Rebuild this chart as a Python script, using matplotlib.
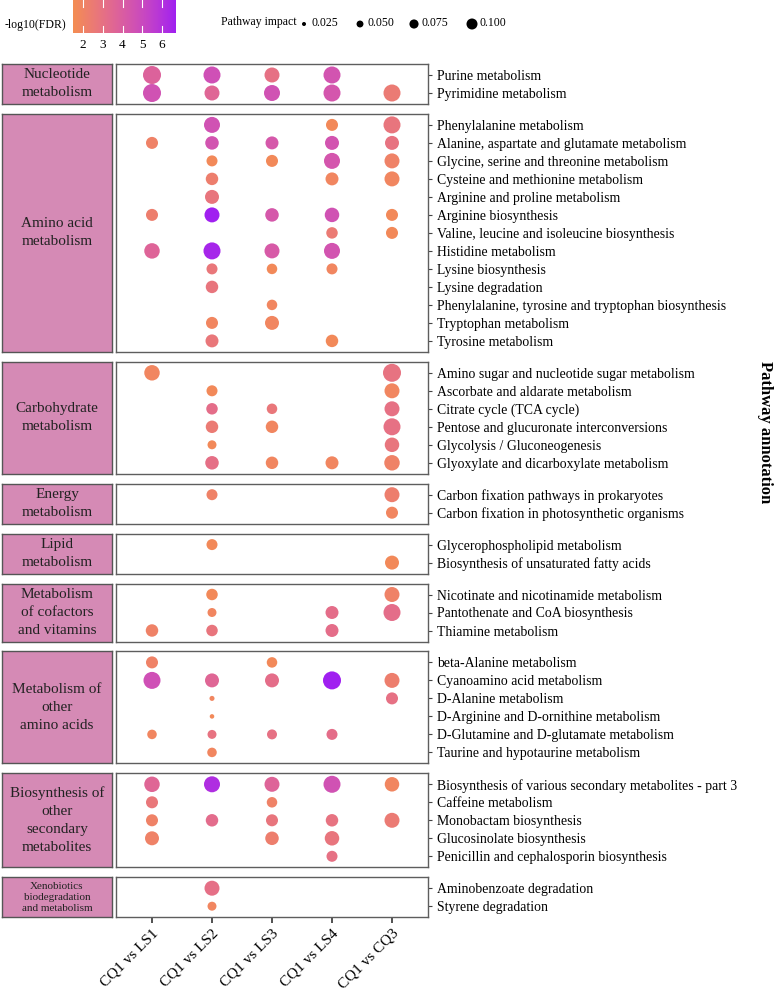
import numpy as np
import matplotlib
matplotlib.use("Agg")
import matplotlib.pyplot as plt
from matplotlib.colors import ListedColormap, Normalize

plt.rcParams['font.family'] = ['Liberation Serif', 'DejaVu Serif']

n = np.nan

comparisons = ["CQ1 vs LS1", "CQ1 vs LS2", "CQ1 vs LS3", "CQ1 vs LS4", "CQ1 vs CQ3"]

categories = ["Nucleotide\nmetabolism", "Amino acid\nmetabolism", "Carbohydrate\nmetabolism",
              "Energy\nmetabolism", "Lipid\nmetabolism", "Metabolism\nof cofactors\nand vitamins",
              "Metabolism of\nother\namino acids", "Biosynthesis of\nother\nsecondary\nmetabolites",
              "Xenobiotics\nbiodegradation\nand metabolism"]
category_sizes = [2, 13, 6, 2, 2, 3, 6, 5, 2]

pathways = [
    "Purine metabolism", "Pyrimidine metabolism",
    "Phenylalanine metabolism", "Alanine, aspartate and glutamate metabolism",
    "Glycine, serine and threonine metabolism", "Cysteine and methionine metabolism",
    "Arginine and proline metabolism", "Arginine biosynthesis",
    "Valine, leucine and isoleucine biosynthesis", "Histidine metabolism",
    "Lysine biosynthesis", "Lysine degradation",
    "Phenylalanine, tyrosine and tryptophan biosynthesis", "Tryptophan metabolism",
    "Tyrosine metabolism",
    "Amino sugar and nucleotide sugar metabolism", "Ascorbate and aldarate metabolism",
    "Citrate cycle (TCA cycle)", "Pentose and glucuronate interconversions",
    "Glycolysis / Gluconeogenesis", "Glyoxylate and dicarboxylate metabolism",
    "Carbon fixation pathways in prokaryotes", "Carbon fixation in photosynthetic organisms",
    "Glycerophospholipid metabolism", "Biosynthesis of unsaturated fatty acids",
    "Nicotinate and nicotinamide metabolism", "Pantothenate and CoA biosynthesis",
    "Thiamine metabolism",
    "beta-Alanine metabolism", "Cyanoamino acid metabolism", "D-Alanine metabolism",
    "D-Arginine and D-ornithine metabolism", "D-Glutamine and D-glutamate metabolism",
    "Taurine and hypotaurine metabolism",
    "Biosynthesis of various secondary metabolites - part 3", "Caffeine metabolism",
    "Monobactam biosynthesis", "Glucosinolate biosynthesis",
    "Penicillin and cephalosporin biosynthesis",
    "Aminobenzoate degradation", "Styrene degradation",
]

# -log10(FDR)
fdr_LS1 = [3.8, 4.6, n, 2.1, n, n, n, 2.3, n, 3.7, n, n, n, n, n, 1.9, n, n, n, n, n, n, n, n, n,
           n, n, 2.1, 2.1, 4.7, n, n, 1.9, n, 3.6, 2.7, 2.1, 2.1, n, n, n]
fdr_LS2 = [4.7, 3.6, 4.6, 4.5, 1.7, 2.3, 2.8, 6.7, n, 6.5, 2.7, 2.8, n, 1.9, 2.7, n, 1.7, 3.2, 2.5, 1.7, 3.1,
           2.1, n, 1.7, n, 1.7, 1.9, 2.8, n, 3.6, 1.9, 1.7, 2.9, 1.9, 6.2, n, 3.3, n, n, 3.1, 1.9]
fdr_LS3 = [3.0, 4.6, n, 4.3, 1.7, n, n, 4.3, n, 4.2, 1.7, n, 1.9, 1.9, n, n, n, 2.7, 1.9, n, 1.9,
           n, n, n, n, n, n, n, 1.7, 3.2, n, n, 3.0, n, 3.7, 2.1, 2.8, 2.3, n, n, n]
fdr_LS4 = [4.5, 4.4, 1.7, 4.5, 4.4, 1.9, n, 4.6, 2.5, 4.5, 1.9, n, n, n, 1.7, n, n, n, n, n, 1.9,
           n, n, n, n, n, 3.2, 3.2, n, 6.7, n, n, 3.2, n, 4.6, n, 2.9, 2.8, 3.0, n, n]
fdr_CQ3 = [n, 2.5, 2.8, 2.9, 2.1, 1.9, n, 1.7, 1.7, n, n, n, n, n, n, 2.9, 1.9, 3.0, 3.0, 2.8, 2.1,
           2.3, 1.9, n, 1.7, 2.1, 3.2, n, n, 2.3, 3.0, n, n, n, 1.9, n, 2.5, n, n, n, n]

# Pathway impact
imp_LS1 = [0.225, 0.225, n, 0.115, n, n, n, 0.115, n, 0.174, n, n, n, n, n, 0.174, n, n, n, n, n,
           n, n, n, n, n, n, 0.122, 0.115, 0.204, n, n, 0.080, n, 0.174, 0.115, 0.115, 0.147, n, n, n]
imp_LS2 = [0.204, 0.165, 0.184, 0.139, 0.100, 0.122, 0.147, 0.165, n, 0.204, 0.100, 0.122, n, 0.115, 0.130,
           n, 0.100, 0.107, 0.122, 0.073, 0.139, 0.100, n, 0.100, n, 0.107, 0.073, 0.107,
           n, 0.147, 0.033, 0.029, 0.073, 0.080, 0.184, n, 0.122, n, n, 0.165, 0.073]
imp_LS3 = [0.165, 0.184, n, 0.130, 0.115, n, n, 0.139, n, 0.165, 0.093, n, 0.093, 0.147, n,
           n, n, 0.093, 0.122, n, 0.122, n, n, n, n, n, n, n,
           0.093, 0.147, n, n, 0.086, n, 0.165, 0.093, 0.115, 0.139, n, n, n]
imp_LS4 = [0.204, 0.204, 0.115, 0.147, 0.184, 0.130, n, 0.156, 0.107, 0.184, 0.100, n, n, n, 0.122,
           n, n, n, n, n, 0.130, n, n, n, n, n, 0.130, 0.130,
           n, 0.225, n, n, 0.100, n, 0.204, n, 0.122, 0.156, 0.100, n, n]
imp_CQ3 = [n, 0.204, 0.204, 0.147, 0.165, 0.165, n, 0.115, 0.115, n, n, n, n, n, n,
           0.225, 0.165, 0.165, 0.204, 0.156, 0.174, 0.165, 0.115, n, 0.147, 0.165, 0.204, n,
           n, 0.165, 0.115, n, n, n, 0.156, n, 0.165, n, n, n, n]

fdr_all = [fdr_LS1, fdr_LS2, fdr_LS3, fdr_LS4, fdr_CQ3]
imp_all = [imp_LS1, imp_LS2, imp_LS3, imp_LS4, imp_CQ3]

size_breaks = [0.025, 0.050, 0.075, 0.100]
color_ticks = [2, 3, 4, 5, 6]
VMIN, VMAX = 1.49, 6.71


# ---------- colour scale: Lab interpolation like ggplot's gradient ----------
def _hex2rgb(h):
    h = h.lstrip('#')
    return np.array([int(h[i:i + 2], 16) / 255 for i in (0, 2, 4)])

M = np.array([[0.4124564, 0.3575761, 0.1804375],
              [0.2126729, 0.7151522, 0.0721750],
              [0.0193339, 0.1191920, 0.9503041]])
WHITE = np.array([0.95047, 1.0, 1.08883])

def rgb2lab(rgb):
    c = np.where(rgb <= 0.04045, rgb / 12.92, ((rgb + 0.055) / 1.055) ** 2.4)
    xyz = M @ c / WHITE
    d = 6 / 29
    f = np.where(xyz > d ** 3, np.cbrt(xyz), xyz / (3 * d * d) + 4 / 29)
    return np.array([116 * f[1] - 16, 500 * (f[0] - f[1]), 200 * (f[1] - f[2])])

def lab2rgb(lab):
    L, a, b = lab
    fy_ = (L + 16) / 116
    f = np.array([fy_ + a / 500, fy_, fy_ - b / 200])
    d = 6 / 29
    xyz = np.where(f > d, f ** 3, 3 * d * d * (f - 4 / 29)) * WHITE
    c = np.linalg.solve(M, xyz)
    c = np.clip(c, 0, 1)
    rgb = np.where(c <= 0.0031308, 12.92 * c, 1.055 * c ** (1 / 2.4) - 0.055)
    return np.clip(rgb, 0, 1)

low, high = rgb2lab(_hex2rgb('#F48D52')), rgb2lab(_hex2rgb('#A020F0'))
cols = [lab2rgb(low + (high - low) * t) for t in np.linspace(0, 1, 256)]
cmap = ListedColormap(cols)
norm = Normalize(VMIN, VMAX)

DPI = 100
W, H = 777, 991
fig = plt.figure(figsize=(W / DPI, H / DPI), dpi=DPI)

def fx(x):
    return x / W

def fy(y):
    return 1 - y / H

def diam_px(v):
    return 44.3 * np.sqrt(v) - 3

def s_of(v):
    return (np.asarray(diam_px(v)) * 72 / DPI) ** 2

FRAME = '#5e5e5e'
BOXFACE = '#D58AB5'

row_px, pad_px, gap_px = 18, 2, 9.9
top = 64
start = 0
nb = len(categories)
for ci, (cat, cnt) in enumerate(zip(categories, category_sizes)):
    h = cnt * row_px + 2 * pad_px
    ax = fig.add_axes([fx(116), fy(top + h), fx(428) - fx(116), h / H])
    pad = pad_px / row_px
    ax.set_xlim(-0.6, 4.6)
    ax.set_ylim(cnt - 0.5 + pad, -0.5 - pad)
    for j in range(len(comparisons)):
        fv = np.array(fdr_all[j][start:start + cnt], dtype=float)
        iv = np.array(imp_all[j][start:start + cnt], dtype=float)
        m = ~np.isnan(fv)
        ys = np.arange(cnt)[m]
        ax.scatter(np.full(ys.shape, j), ys, s=s_of(iv[m]), c=fv[m], cmap=cmap, norm=norm,
                   edgecolors='none', zorder=3)
    ax.yaxis.tick_right()
    ax.set_yticks(range(cnt))
    ax.set_yticklabels(pathways[start:start + cnt], fontsize=9.9)
    ax.tick_params(axis='y', length=3, width=0.8, color='#444444', pad=3.5)
    for sp in ax.spines.values():
        sp.set_color(FRAME)
        sp.set_linewidth(1.0)
    if ci == nb - 1:
        ax.set_xticks(range(len(comparisons)))
        ax.set_xticklabels(comparisons, rotation=45, ha='right', va='top',
                           rotation_mode='anchor', fontsize=11)
        ax.tick_params(axis='x', length=4, width=1.2, color='#333333', pad=3)
    else:
        ax.set_xticks([])

    bx = fig.add_axes([fx(2), fy(top + h), fx(112) - fx(2), h / H])
    bx.set_facecolor(BOXFACE)
    bx.set_xticks([])
    bx.set_yticks([])
    for sp in bx.spines.values():
        sp.set_color('#555555')
        sp.set_linewidth(1.0)
    if ci == nb - 1:
        fsz, ls = 8, 1.3
    else:
        fsz, ls = 11, 1.5
    bx.text(0.5, 0.5, cat, ha='center', va='center', fontsize=fsz, color='#222222',
            linespacing=ls, transform=bx.transAxes)

    start += cnt
    top += h + gap_px

# ---------- colour legend ----------
cax = fig.add_axes([fx(73), fy(33), fx(176) - fx(73), 33 / H])
grad = np.linspace(VMIN, VMAX, 300)[None, :]
cax.imshow(grad, aspect='auto', cmap=cmap, norm=norm, extent=[VMIN, VMAX, 0, 1])
for t in color_ticks:
    cax.plot([t, t], [0, 0.22], color='white', lw=0.8)
    cax.plot([t, t], [0.78, 1], color='white', lw=0.8)
cax.set_xlim(VMIN, VMAX)
cax.set_ylim(0, 1)
cax.set_yticks([])
cax.set_xticks(color_ticks)
cax.set_xticklabels([str(t) for t in color_ticks], fontsize=9.5)
cax.tick_params(axis='x', length=0, pad=4)
for sp in cax.spines.values():
    sp.set_visible(False)
fig.text(fx(5), fy(25), "-log10(FDR)", fontsize=8.5, ha='left', va='center')

# ---------- size legend ----------
lax = fig.add_axes([0, 0, 1, 1], facecolor='none')
lax.set_xlim(0, W)
lax.set_ylim(H, 0)
lax.axis('off')
lax.text(221, 22, "Pathway impact", fontsize=8.5, ha='left', va='center')
leg_x = [304, 360, 414, 472]
lax.scatter(leg_x, [24] * len(leg_x), s=s_of(np.array(size_breaks)), color='black', edgecolors='none')
for x, b in zip(leg_x, size_breaks):
    lax.text(x + 8, 23, f"{b:.3f}", fontsize=8.5, ha='left', va='center')

fig.text(fx(765), fy(432), "Pathway annotation", rotation=-90, fontsize=12, fontweight='bold',
         ha='center', va='center')

fig.savefig("out.png", dpi=DPI)
